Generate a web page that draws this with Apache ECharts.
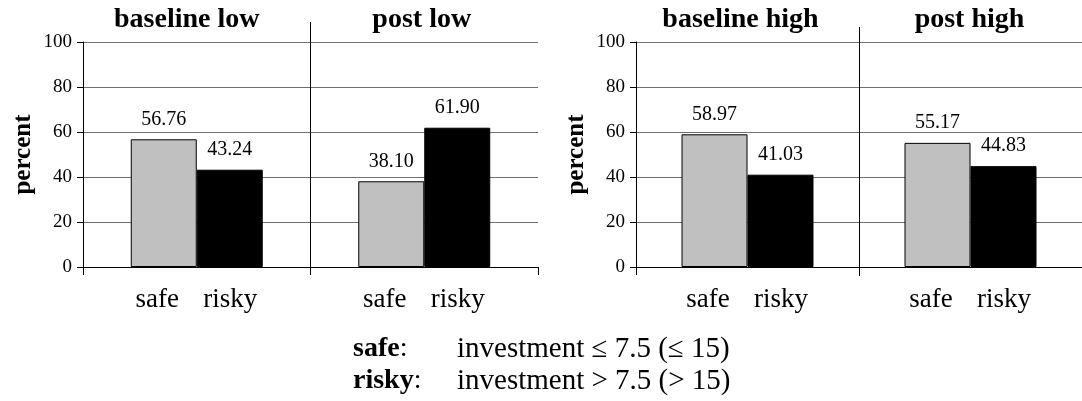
<!DOCTYPE html>
<html>
<head>
<meta charset="utf-8">
<script src="https://cdn.jsdelivr.net/npm/echarts@6/dist/echarts.min.js"></script>
<style>
  html, body { margin: 0; padding: 0; background: #fff; }
  #chart { width: 1082px; height: 401px; }
</style>
</head>
<body>
<div id="chart"></div>
<script>
// Choice groups shown under each pair of bars
const groupNames = ['safe', 'risky'];

// Panels (categories) of the two charts
const lowPanels = ['baseline low', 'post low'];
const highPanels = ['baseline high', 'post high'];

// Share of subjects (percent) per panel
const safeLow = [56.76, 38.10];
const riskyLow = [43.24, 61.90];
const safeHigh = [58.97, 55.17];
const riskyHigh = [41.03, 44.83];

// Value axis
const yMin = 0;
const yMax = 100;
const yStep = 20;
const yTitle = 'percent';

// Definitions printed below the charts
const legendKeys = ['safe', 'risky'];
const legendTexts = ['investment \u2264 7.5 (\u2264 15)', 'investment > 7.5 (> 15)'];

const FONT = "'Liberation Serif', 'Times New Roman', serif";
const BAR_W = 66;
const GRID_TOP = 42;
const GRID_H = 225;

const panels = [
  { left: 83, width: 455, cats: lowPanels, safe: safeLow, risky: riskyLow, sepTop: 22, sepBottom: 270, titlePad: [20, 5] },
  { left: 636, width: 456, cats: highPanels, safe: safeHigh, risky: riskyHigh, sepTop: 27, sepBottom: 276, titlePad: [14, 2] }
];

const grid = [], xAxis = [], yAxis = [], series = [];

panels.forEach((p, i) => {
  const gMain = grid.length;
  grid.push({ left: p.left, width: p.width, top: GRID_TOP, height: GRID_H, containLabel: false });
  const gSep = grid.length;
  grid.push({ left: p.left, width: p.width, top: p.sepTop, height: p.sepBottom - p.sepTop, containLabel: false });

  // bottom category axis: group names under each bar pair
  const xBottom = xAxis.length;
  xAxis.push({
    type: 'category', gridIndex: gMain, position: 'bottom', data: p.cats,
    axisLine: { lineStyle: { color: '#000', width: 1 } },
    axisTick: { show: true, length: 8, lineStyle: { color: '#000' } },
    axisLabel: {
      margin: 19, color: '#000',
      formatter: () => groupNames.map((n, k) => '{g' + k + '|' + n + '}').join(''),
      rich: {
        g0: { width: BAR_W, align: 'center', fontSize: 27, fontFamily: FONT, color: '#000', padding: [0, 7, 0, 0] },
        g1: { width: BAR_W, align: 'center', fontSize: 27, fontFamily: FONT, color: '#000', padding: [0, 6, 0, 0] }
      }
    },
    splitLine: { show: false }
  });
  // top category axis: panel titles
  xAxis.push({
    type: 'category', gridIndex: gMain, position: 'top',
    data: p.cats.map((c, j) => ({ value: c, textStyle: { padding: [0, p.titlePad[j], 0, 0] } })),
    axisLine: { show: false }, axisTick: { show: false },
    axisLabel: { margin: 8, color: '#000', fontSize: 28, fontWeight: 'bold', fontFamily: FONT },
    splitLine: { show: false }
  });
  // separator between the two panels of a chart
  xAxis.push({
    type: 'category', gridIndex: gSep, data: p.cats, z: 1,
    axisLine: { show: false }, axisTick: { show: false }, axisLabel: { show: false },
    splitLine: { show: true, showMinLine: false, showMaxLine: false, lineStyle: { color: '#000', width: 1 } }
  });

  const yMain = yAxis.length;
  yAxis.push({
    type: 'value', gridIndex: gMain, min: yMin, max: yMax, interval: yStep,
    name: yTitle, nameLocation: 'middle', nameGap: 47,
    nameTextStyle: { fontSize: 25, fontWeight: 'bold', fontFamily: FONT, color: '#000' },
    axisLine: { show: true, lineStyle: { color: '#000', width: 1 } },
    axisTick: { show: true, length: 6, lineStyle: { color: '#000' } },
    axisLabel: { margin: 11, fontSize: 19, fontFamily: FONT, color: '#000' },
    splitLine: { show: true, lineStyle: { color: '#707070', width: 1 } }
  });
  yAxis.push({ type: 'value', gridIndex: gSep, show: false });

  const valueLabel = {
    show: true, position: 'top', distance: 10, fontSize: 20, fontFamily: FONT, color: '#000',
    formatter: d => d.value.toFixed(2)
  };
  series.push({
    name: groupNames[0], type: 'bar', xAxisIndex: xBottom, yAxisIndex: yMain,
    data: p.safe, barWidth: BAR_W, barGap: '0%',
    itemStyle: { color: '#c0c0c0', borderColor: '#000', borderWidth: 1 },
    label: valueLabel, silent: true
  });
  series.push({
    name: groupNames[1], type: 'bar', xAxisIndex: xBottom, yAxisIndex: yMain,
    data: p.risky, barWidth: BAR_W, barGap: '0%',
    itemStyle: { color: '#000', borderColor: '#000', borderWidth: 1 },
    label: valueLabel, silent: true
  });
});

const chart = echarts.init(document.getElementById('chart'), null, { renderer: 'canvas' });
chart.setOption({
  animation: false,
  backgroundColor: '#fff',
  textStyle: { fontFamily: FONT },
  grid, xAxis, yAxis, series,
  graphic: [
    {
      type: 'text', left: 353, top: 333,
      style: {
        text: legendKeys.map(k => '{k|' + k + '}{c|:}').join('\n'),
        lineHeight: 32, fill: '#000',
        rich: {
          k: { fontSize: 28, fontWeight: 'bold', fontFamily: FONT, lineHeight: 32, fill: '#000' },
          c: { fontSize: 28, fontFamily: FONT, lineHeight: 32, fill: '#000' }
        }
      }
    },
    {
      type: 'text', left: 457, top: 333,
      style: {
        text: legendTexts.join('\n'),
        fontSize: 29, fontFamily: FONT, lineHeight: 32, fill: '#000'
      }
    }
  ]
});
</script>
</body>
</html>
